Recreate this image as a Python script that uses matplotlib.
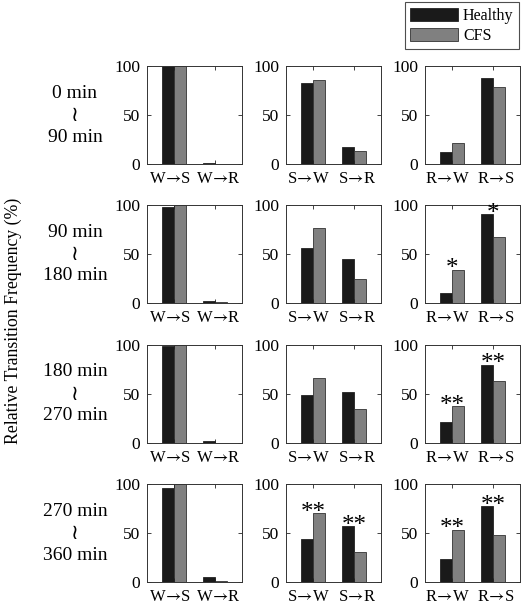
import matplotlib
matplotlib.use("Agg")
import matplotlib.pyplot as plt
import matplotlib.transforms as mtransforms
import numpy as np

plt.rcParams['font.family'] = ['Liberation Serif', 'DejaVu Serif']
plt.rcParams['mathtext.fontset'] = 'stix'

# data (percent)
periods = ["0 min", "90 min", "180 min", "270 min", "360 min"]
transitions = [["W", "W"], ["S", "S"], ["R", "R"]]
targets = [["S", "R"], ["W", "R"], ["W", "S"]]

healthy_0 = [[100, 0.6], [83, 17], [12, 88]]
healthy_1 = [[98, 2.5], [56, 44.5], [10, 90.5]]
healthy_2 = [[98.5, 2.5], [48.5, 52.5], [21, 80]]
healthy_3 = [[95.5, 5.5], [43.5, 57], [23, 77.5]]

cfs_0 = [[100, 0], [86, 13.5], [21, 79]]
cfs_1 = [[99.5, 0.8], [76.5, 24], [34, 67]]
cfs_2 = [[100, 0], [66.5, 35], [37.5, 63]]
cfs_3 = [[100, 0.8], [70, 31], [53.5, 48]]

sig_0 = [["", ""], ["", ""], ["", ""]]
sig_1 = [["", ""], ["", ""], ["*", "*"]]
sig_2 = [["", ""], ["", ""], ["**", "**"]]
sig_3 = [["", ""], ["**", "**"], ["**", "**"]]

healthy = [healthy_0, healthy_1, healthy_2, healthy_3]
cfs = [cfs_0, cfs_1, cfs_2, cfs_3]
sig = [sig_0, sig_1, sig_2, sig_3]

W, H = 528, 604
fig = plt.figure(figsize=(W / 100, H / 100), dpi=100)

col_left = [147, 286, 425]
row_top = [66, 205, 345, 484]
ax_w, ax_h = 95, 98
bw = 0.29
x = np.array([1, 2])
label_shift = [-4, 3]  # px, tick labels sit a bit off the bar pairs in the original

for r in range(4):
    for c in range(3):
        ax = fig.add_axes([col_left[c] / W, 1 - (row_top[r] + ax_h) / H, ax_w / W, ax_h / H])
        h = healthy[r][c]
        f = cfs[r][c]
        b1 = ax.bar(x - bw / 2, h, bw, color='#1a1a1a', edgecolor='#222222', linewidth=0.6, label='Healthy')
        b2 = ax.bar(x + bw / 2, f, bw, color='#808080', edgecolor='#333333', linewidth=0.6, label='CFS')
        for i in range(2):
            if sig[r][c][i]:
                top = max(h[i], f[i])
                ax.annotate(sig[r][c][i], (x[i], top), xytext=(0, -4), textcoords='offset points',
                            ha='center', va='baseline', fontsize=18)
        ax.set_xlim(0.35, 2.65)
        ax.set_ylim(0, 100)
        ax.set_yticks([0, 50, 100])
        ax.set_xticks(x)
        ax.set_xticklabels([transitions[c][i] + r"$\!\rightarrow\!$" + targets[c][i] for i in range(2)])
        ax.tick_params(direction='in', length=3, width=0.6, top=True, right=True,
                       labelsize=12.5, pad=5, colors='#222222', labelcolor='black')
        ax.tick_params(axis='x', labelsize=12)
        for lbl, dx in zip(ax.get_xticklabels(), label_shift):
            lbl.set_transform(lbl.get_transform() +
                              mtransforms.ScaledTranslation(dx / 100, 0, fig.dpi_scale_trans))
        for s in ax.spines.values():
            s.set_linewidth(0.7)
            s.set_color('#333333')
        if r == 0 and c == 2:
            handles = [b1, b2]

    # time range label on the left
    yc = 1 - (row_top[r] + ax_h / 2) / H
    fig.text(75 / W, yc + 22 / H, periods[r], ha='center', va='center', fontsize=14)
    fig.text(75 / W, yc, "\u2240", ha='center', va='center', fontsize=15,
             family=['DejaVu Sans'])
    fig.text(75 / W, yc - 22 / H, periods[r + 1], ha='center', va='center', fontsize=14)

fig.text(13 / W, 1 - 321 / H, "Relative Transition Frequency (%)", rotation=90,
         ha='center', va='center', fontsize=12.8)

leg = fig.legend(handles, ['Healthy', 'CFS'], loc='upper right',
                 bbox_to_anchor=(519 / W, 1 - 2 / H), fontsize=11.5, fancybox=False,
                 edgecolor='#222222', handlelength=3.0, handleheight=0.9,
                 borderpad=0.35, labelspacing=0.25, handletextpad=0.3, borderaxespad=0)
leg.get_frame().set_linewidth(0.8)

fig.savefig("out.png", dpi=100)
